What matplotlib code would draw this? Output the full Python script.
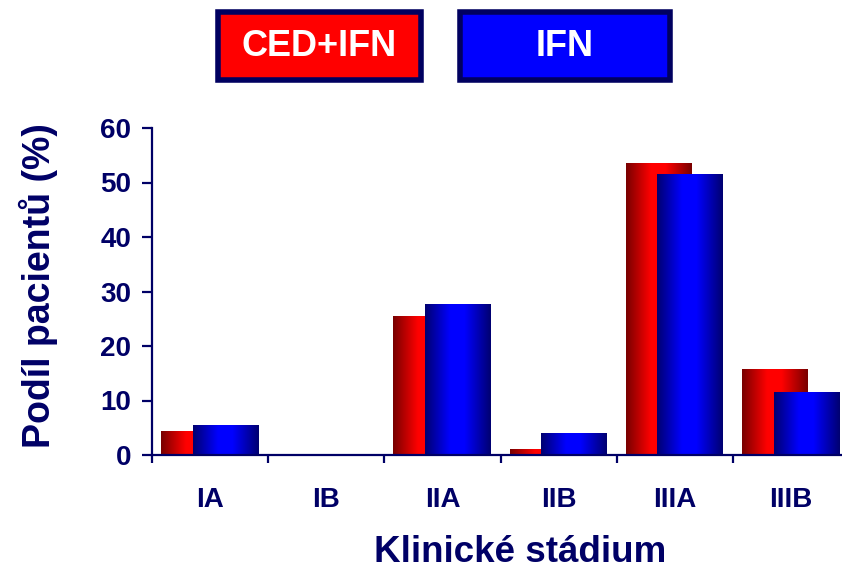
import numpy as np
import matplotlib
matplotlib.use("Agg")
import matplotlib.pyplot as plt
from matplotlib.colors import LinearSegmentedColormap
from matplotlib.patches import Rectangle

# data: share of patients per clinical stage
stages = ["IA", "IB", "IIA", "IIB", "IIIA", "IIIB"]
ced_ifn = [4.4, 0.0, 25.5, 1.0, 53.4, 15.6]
ifn = [5.5, 0.0, 27.7, 4.0, 51.4, 11.4]
series_names = ["CED+IFN", "IFN"]

NAVY = "#000066"
W, H = 842, 569

plt.rcParams["font.family"] = ["Liberation Sans", "DejaVu Sans"]
plt.rcParams["font.weight"] = "bold"

# dark edges, bright centre band
red_cmap = LinearSegmentedColormap.from_list(
    "redc", [(0, "#780000"), (0.38, "#ff0000"), (0.6, "#ff0000"), (1, "#780000")])
blue_cmap = LinearSegmentedColormap.from_list(
    "bluec", [(0, "#000070"), (0.38, "#0000ff"), (0.6, "#0000ff"), (1, "#000070")])


def px(x0, y0, x1, y1):
    """pixel box (top-left origin) -> figure coords rectangle"""
    return (x0 / W, 1 - y1 / H), (x1 - x0) / W, (y1 - y0) / H


def gradient_bars(ax, bars, cmap, z):
    grad = np.linspace(0, 1, 256).reshape(1, -1)
    for b in bars:
        h = b.get_height()
        if h <= 0:
            continue
        x = b.get_x()
        ax.imshow(grad, cmap=cmap, aspect="auto", interpolation="bilinear",
                  extent=(x, x + b.get_width(), 0, h), zorder=z)


fig = plt.figure(figsize=(W / 100, H / 100), dpi=100)
ax = fig.add_axes([152 / W, (H - 455) / H, 6 * 116.2 / W, 327 / H])

idx = np.arange(len(stages))
bw = 0.565
red = ax.bar(idx + 0.078, ced_ifn, width=bw, align="edge", color="none")
blue = ax.bar(idx + 0.35, ifn, width=bw, align="edge", color="none")
gradient_bars(ax, red, red_cmap, 2)
gradient_bars(ax, blue, blue_cmap, 3)

ax.set_xlim(0, len(stages))
ax.set_ylim(0, 60)
ax.set_yticks(range(0, 61, 10))
ax.set_xticks(idx + 0.5)
ax.set_xticklabels(stages)
ax.set_xticks(np.arange(0, len(stages) + 1), minor=True)

for s in ["top", "right"]:
    ax.spines[s].set_visible(False)
for s in ["left", "bottom"]:
    ax.spines[s].set_color(NAVY)
    ax.spines[s].set_linewidth(1.6)
    ax.spines[s].set_zorder(5)

ax.tick_params(axis="y", direction="out", length=7, width=1.6, color=NAVY,
               labelcolor=NAVY, labelsize=20, pad=8)
ax.tick_params(axis="x", which="major", length=0, labelcolor=NAVY,
               labelsize=20, pad=23)
ax.tick_params(axis="x", which="minor", direction="out", length=6,
               width=1.6, color=NAVY)
for lab in ax.get_xticklabels() + ax.get_yticklabels():
    lab.set_fontweight("bold")

fig.text(38 / W, 1 - 286 / H, "Podíl pacientů (%)", rotation=90, ha="center",
         va="center", fontsize=27, fontweight="bold", color=NAVY)
fig.text(520 / W, 1 - 553 / H, "Klinické stádium", ha="center", va="center",
         fontsize=26.5, fontweight="bold", color=NAVY)

# legend boxes
boxes = [(217.7, 11.7, 421.3, 80.3, "#ff0000"), (459.7, 11.7, 670.3, 80.3, "#0000ff")]
for (x0, y0, x1, y1, fc), name in zip(boxes, series_names):
    xy, w, h = px(x0, y0, x1, y1)
    fig.add_artist(Rectangle(xy, w, h, transform=fig.transFigure, facecolor=fc,
                             edgecolor="#000060", linewidth=4))
    fig.text((x0 + x1) / 2 / W, 1 - 47 / H, name, ha="center", va="center",
             fontsize=26, fontweight="bold", color="white")

fig.savefig("out.png", dpi=100)
